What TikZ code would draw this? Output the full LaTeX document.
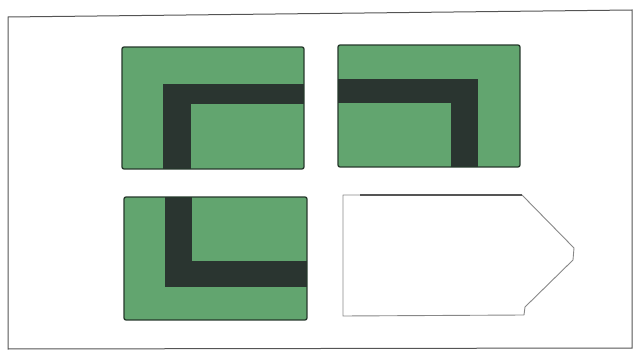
\documentclass[tikz,border=0pt]{standalone}
\usetikzlibrary{calc}
\definecolor{tilegreen}{HTML}{62A56F}
\definecolor{tilebar}{HTML}{2A3530}
\definecolor{tileedge}{HTML}{25382B}
\definecolor{framegray}{HTML}{555555}
\tikzset{
  tile/.style={draw=tileedge, fill=tilegreen, line width=1.3pt, rounded corners=2pt},
  bar/.style={fill=tilebar},
  blank/.style={draw=framegray!70, line width=0.9pt, fill=white, line join=round},
  frame/.style={draw=framegray, line width=1pt},
}
\begin{document}
\begin{tikzpicture}[x=1pt, y=-1pt]
  \useasboundingbox (0,0) rectangle (641,353);
  % outer frame
  \draw[frame] (8,17) -- (632,10) -- (632,348) -- (8,349) -- cycle;

  % top left tile
  \fill[tilegreen] (122,47) rectangle (304,169);
  \fill[bar] (163,84) rectangle (191,169);
  \fill[bar] (163,84) rectangle (304,104);
  \draw[tile, fill=none] (122,47) rectangle (304,169);

  % top right tile
  \fill[tilegreen] (338,45) rectangle (520,167);
  \fill[bar] (338,79) rectangle (478,103);
  \fill[bar] (451,79) rectangle (478,167);
  \draw[tile, fill=none] (338,45) rectangle (520,167);

  % bottom left tile
  \fill[tilegreen] (124,197) rectangle (307,320);
  \fill[bar] (165,197) rectangle (192,287);
  \fill[bar] (165,261) rectangle (307,287);
  \draw[tile, fill=none] (124,197) rectangle (307,320);

  % missing piece
  \draw[blank] (343,195) -- (522,195) -- (574,248) -- (573,260)
    -- (525,307) -- (524,315) -- (343,316) -- cycle;
  \draw[framegray, line width=1.2pt] (360,195) -- (522,195);
\end{tikzpicture}
\end{document}
